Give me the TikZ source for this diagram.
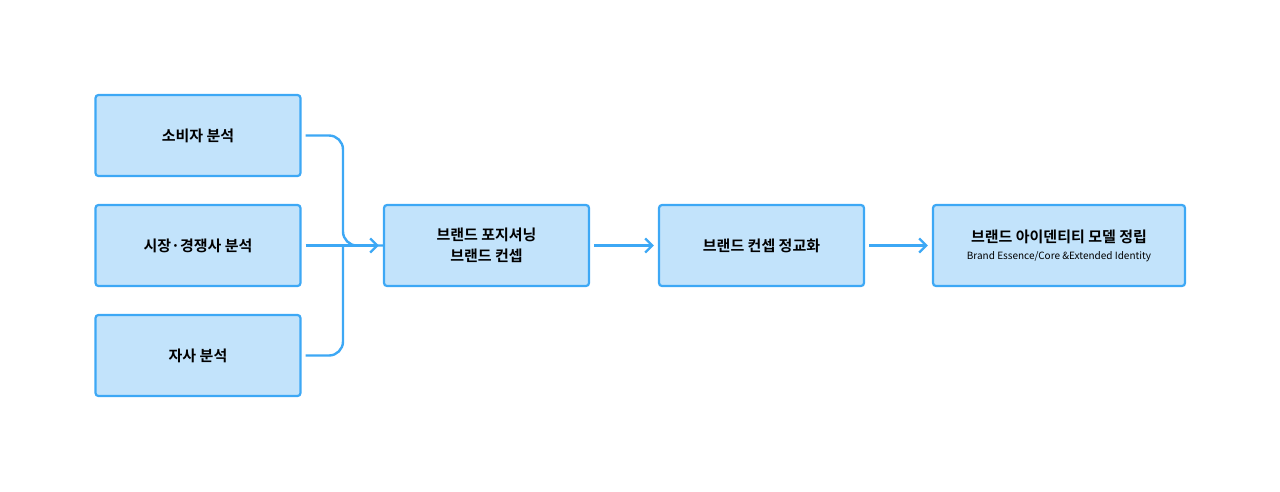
\documentclass[tikz,border=0pt]{standalone}
\usepackage{fontspec}
\setmainfont{Noto Sans CJK KR}
\newfontfamily\kb{Noto Sans CJK KR Bold}
\usetikzlibrary{arrows.meta}
\definecolor{bfill}{HTML}{C2E3FB}
\definecolor{bline}{HTML}{3DA8F5}
\tikzset{
  box/.style={draw=bline,fill=bfill,line width=2.2pt,rounded corners=3pt,minimum height=81pt,align=center,font=\kb\fontsize{15}{21}\selectfont},
  conn/.style={draw=bline,line width=2.4pt,rounded corners=14pt},
  arr/.style={conn,-{Straight Barb[length=7pt,width=14pt,line width=2.4pt]}}
}
\begin{document}
\begin{tikzpicture}[x=1pt,y=-1pt]
\useasboundingbox (0,0) rectangle (1280,491);
\node[box,minimum width=205pt] (a) at (198,135.5) {소비자 분석};
\node[box,minimum width=205pt] (b) at (198,245.5) {시장·경쟁사 분석};
\node[box,minimum width=205pt] (c) at (198,355.5) {자사 분석};
\node[box,minimum width=205pt] (d) at (486.5,245.5) {브랜드 포지셔닝\\브랜드 컨셉};
\node[box,minimum width=205pt] (e) at (761.5,245.5) {브랜드 컨셉 정교화};
\node[box,minimum width=252pt] (f) at (1059,245.5) {브랜드 아이덴티티 모델 정립\\[-4pt]{\fontspec{Noto Sans CJK KR}\fontsize{10}{12}\selectfont Brand Essence/Core \&Extended Identity}};
\coordinate (m) at (343,245.5);
\draw[conn] ([xshift=4pt]a.east) -| (m) -- (d.west);
\draw[conn] ([xshift=4pt]c.east) -| (m);
\draw[arr] ([xshift=4pt]b.east) -- ([xshift=-4pt]d.west);
\draw[arr] ([xshift=4pt]d.east) -- ([xshift=-4pt]e.west);
\draw[arr] ([xshift=4pt]e.east) -- ([xshift=-4pt]f.west);
\end{tikzpicture}
\end{document}
